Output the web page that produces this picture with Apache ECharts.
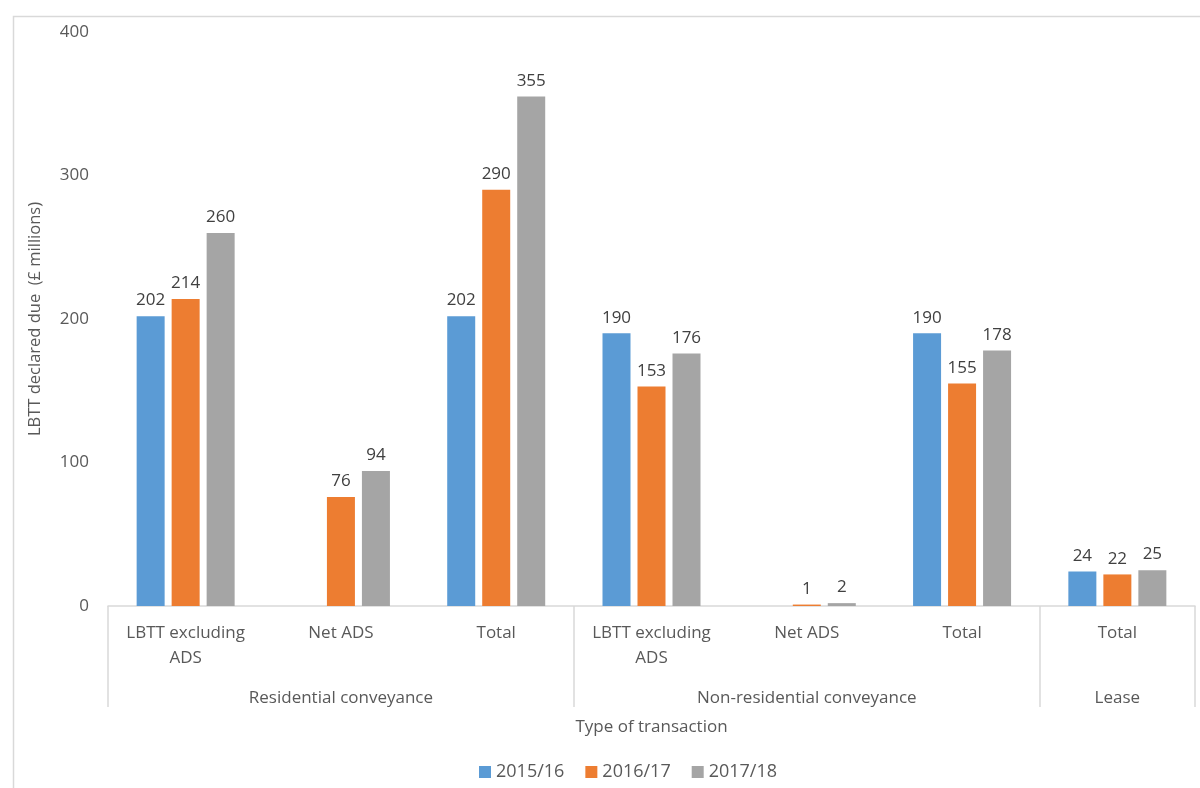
<!DOCTYPE html>
<html>
<head>
<meta charset="utf-8">
<script src="https://cdn.jsdelivr.net/npm/echarts@6/dist/echarts.min.js"></script>
<style>html,body{margin:0;padding:0;background:#fff}#c{width:1200px;height:788px}</style>
</head>
<body>
<div id="c"></div>
<script>
var categories = ['LBTT excluding\nADS', 'Net ADS', 'Total', 'LBTT excluding\nADS', 'Net ADS', 'Total', 'Total'];
var groupNames = ['Residential conveyance', 'Non-residential conveyance', 'Lease'];
var groupSpans = [3, 3, 1];
var seriesNames = ['2015/16', '2016/17', '2017/18'];
var v2015 = [202, null, 202, 190, null, 190, 24];
var v2016 = [214, 76, 290, 153, 1, 155, 22];
var v2017 = [260, 94, 355, 176, 2, 178, 25];
var yTicks = [0, 100, 200, 300, 400];
var colors = ['#5b9bd5', '#ed7d31', '#a5a5a5'];

var FONT = 'Open Sans';
var FS = 17;
// build group axis data & boundaries
var groupData = [], groupLabelIdx = {}, boundaries = {};
var pos = 0;
groupSpans.forEach(function (n, g) {
  boundaries[pos] = true;
  var mid = pos + Math.floor((n - 1) / 2);
  for (var i = 0; i < n; i++) groupData.push(groupNames[g]);
  groupLabelIdx[mid] = true;
  pos += n;
});

var chart = echarts.init(document.getElementById('c'));
var values = [v2015, v2016, v2017];
chart.setOption({
  animation: false,
  textStyle: { fontFamily: FONT },
  color: colors,
  graphic: [{
    type: 'rect', left: 11, top: 14, shape: { width: 1300, height: 900 },
    style: { fill: 'none', stroke: '#d9d9d9', lineWidth: 1.5 }, silent: true, z: -1
  }],
  grid: { left: 108, right: 5, top: 32, bottom: 182, containLabel: false },
  legend: {
    bottom: 2, left: 474, itemWidth: 12, itemHeight: 12, itemGap: 21,
    icon: 'rect',
    textStyle: { fontFamily: FONT, fontSize: 18, color: '#595959' },
    data: seriesNames
  },
  xAxis: [{
    type: 'category', data: categories, position: 'bottom',
    axisLine: { lineStyle: { color: '#d9d9d9', width: 1.5 } },
    axisTick: {
      show: true, length: 101, lineStyle: { color: '#d9d9d9', width: 1.5 },
      interval: function (idx) { return !!boundaries[idx]; }
    },
    axisLabel: { interval: 0, color: '#595959', fontSize: FS, fontFamily: FONT, lineHeight: 25, margin: 15 }
  }, {
    type: 'category', data: groupData, position: 'bottom', offset: 76,
    axisLine: { show: false }, axisTick: { show: false },
    axisLabel: {
      color: '#595959', fontSize: FS, fontFamily: FONT,
      interval: function (idx) { return !!groupLabelIdx[idx]; }
    },
    name: 'Type of transaction', nameLocation: 'middle', nameGap: 37,
    nameTextStyle: { color: '#595959', fontSize: FS, fontFamily: FONT }
  }],
  yAxis: {
    type: 'value', min: yTicks[0], max: yTicks[yTicks.length - 1], interval: 100,
    splitLine: { show: false }, axisLine: { show: false }, axisTick: { show: false },
    axisLabel: { color: '#595959', fontSize: FS, fontFamily: FONT, margin: 19 },
    name: 'LBTT declared due  (£ millions)', nameLocation: 'middle', nameGap: 64, nameRotate: 90,
    nameTextStyle: { color: '#595959', fontSize: 16.5, fontFamily: FONT }
  },
  series: seriesNames.map(function (n, i) {
    return {
      name: n, type: 'bar', xAxisIndex: 0, data: values[i],
      barWidth: 28, barGap: '25%',
      itemStyle: { color: colors[i] },
      label: { show: true, position: 'top', distance: 7, color: '#404040', fontSize: FS, fontFamily: FONT }
    };
  })
});
</script>
</body>
</html>
